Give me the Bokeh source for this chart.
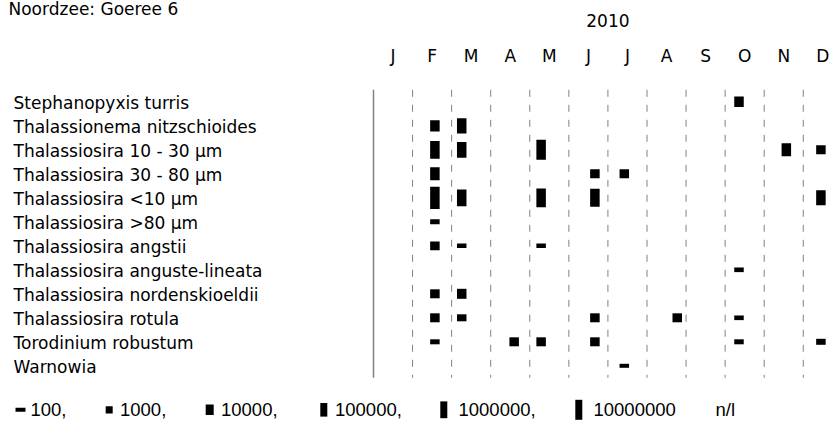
import calendar
import math
from bokeh.plotting import figure
from bokeh.models import Range1d
from bokeh.core.properties import value
from bokeh.embed import file_html
from bokeh.resources import INLINE

# ---------------- data ----------------
title = "Noordzee: Goeree 6"
year = 2010
month_letters = ["J", "F", "M", "A", "M", "J", "J", "A", "S", "O", "N", "D"]

species = [
    "Stephanopyxis turris",
    "Thalassionema nitzschioides",
    "Thalassiosira 10 - 30 µm",
    "Thalassiosira 30 - 80 µm",
    "Thalassiosira <10 µm",
    "Thalassiosira >80 µm",
    "Thalassiosira angstii",
    "Thalassiosira anguste-lineata",
    "Thalassiosira nordenskioeldii",
    "Thalassiosira rotula",
    "Torodinium robustum",
    "Warnowia",
]

# observations (species, sampling date, cells per litre)
obs_species = [
    "Stephanopyxis turris",
    "Thalassionema nitzschioides", "Thalassionema nitzschioides",
    "Thalassiosira 10 - 30 µm", "Thalassiosira 10 - 30 µm", "Thalassiosira 10 - 30 µm",
    "Thalassiosira 10 - 30 µm", "Thalassiosira 10 - 30 µm",
    "Thalassiosira 30 - 80 µm", "Thalassiosira 30 - 80 µm", "Thalassiosira 30 - 80 µm",
    "Thalassiosira <10 µm", "Thalassiosira <10 µm", "Thalassiosira <10 µm",
    "Thalassiosira <10 µm", "Thalassiosira <10 µm",
    "Thalassiosira >80 µm",
    "Thalassiosira angstii", "Thalassiosira angstii", "Thalassiosira angstii",
    "Thalassiosira anguste-lineata",
    "Thalassiosira nordenskioeldii", "Thalassiosira nordenskioeldii",
    "Thalassiosira rotula", "Thalassiosira rotula", "Thalassiosira rotula",
    "Thalassiosira rotula", "Thalassiosira rotula",
    "Torodinium robustum", "Torodinium robustum", "Torodinium robustum",
    "Torodinium robustum", "Torodinium robustum", "Torodinium robustum",
    "Warnowia",
]
obs_date = [
    "2010-10-12",
    "2010-02-17", "2010-03-09",
    "2010-02-17", "2010-03-09", "2010-05-10", "2010-11-18", "2010-12-15",
    "2010-02-17", "2010-06-21", "2010-07-14",
    "2010-02-17", "2010-03-09", "2010-05-10", "2010-06-21", "2010-12-15",
    "2010-02-17",
    "2010-02-17", "2010-03-09", "2010-05-10",
    "2010-10-12",
    "2010-02-17", "2010-03-09",
    "2010-02-17", "2010-03-09", "2010-06-21", "2010-08-25", "2010-10-12",
    "2010-02-17", "2010-04-19", "2010-05-10", "2010-06-21", "2010-10-12", "2010-12-15",
    "2010-07-14",
]
obs_value = [
    7000,
    11000, 140000,
    650000, 180000, 2800000, 32000, 2400,
    32000, 2400, 2400,
    12000000, 340000, 1200000, 780000, 110000,
    190,
    2000, 150, 150,
    150,
    2400, 4600,
    2400, 680, 2400, 2400, 150,
    190, 2400, 2400, 2400, 190, 360,
    100,
]

legend_values = [100, 1000, 10000, 100000, 1000000, 10000000]
legend_labels = ["100,", "1000,", "10000,", "100000,", "1000000,", "10000000"]
unit_label = "n/l"

# ---------------- layout / style ----------------
W, H = 834, 430
MONTH_PX = 39.07         # width of one month
X0_PAGE = 373            # page x of 1 January
ROW_PX = 24
ROW0_PAGE = 101.3        # page y of first row centre
FONT = "DejaVu Sans"
LEG_FONT = "Liberation Sans"


def px(page_x):
    return (page_x - X0_PAGE) / MONTH_PX


def py(page_y):
    return (page_y - ROW0_PAGE) / ROW_PX


def month_pos(date_str):
    y, m, d = (int(t) for t in date_str.split("-"))
    return (m - 1) + (d - 1) / calendar.monthrange(y, m)[1]


def bar_height(v):
    return 4 + 3.6 * (math.log10(v) - 2)


def legend_height(v):
    return 4 + 3.2 * (math.log10(v) - 2)


p = figure(
    width=W, height=H,
    x_range=Range1d(px(0), px(W)),
    y_range=Range1d(py(H), py(0)),
    output_backend="svg", toolbar_location=None,
    x_axis_location=None, y_axis_location=None,
    min_border=0, outline_line_color=None,
)
p.grid.visible = False

n = len(species)
# month separators
p.segment(x0=list(range(1, 12)), x1=list(range(1, 12)),
          y0=[-0.5] * 11, y1=[n - 0.5] * 11,
          line_color="#808080", line_width=1, line_dash="7 8")
p.segment(x0=[0], x1=[0], y0=[-0.5], y1=[n - 0.5],
          line_color="#808080", line_width=1.5)

# bars
bx = [month_pos(d) for d in obs_date]
by = [species.index(s) for s in obs_species]
bh = [bar_height(v) for v in obs_value]
p.rect(x=bx, y=by, width=9.5, height=bh, width_units="screen", height_units="screen",
       fill_color="black", line_color=None)

# species labels
p.text(x=[px(13)] * n, y=[i + 0.06 for i in range(n)], text=species,
       text_font=value(FONT), text_font_size="17px", text_color="black",
       text_align="left", text_baseline="middle")

# title, year, months
p.text(x=[px(8)], y=[py(8.5)], text=[title], text_font=value(FONT), text_font_size="17px",
       text_color="black", text_align="left", text_baseline="middle")
p.text(x=[6.0], y=[py(20)], text=[str(year)], text_font=value(FONT), text_font_size="17px",
       text_color="black", text_align="center", text_baseline="middle")
p.text(x=[i + 0.5 for i in range(12)], y=[py(55.5)] * 12, text=month_letters,
       text_font=value(FONT), text_font_size="17px", text_color="black",
       text_align="center", text_baseline="middle")

# legend
leg_marker_px = [20, 108.7, 209.2, 323.3, 443.3, 578.3]
leg_marker_w = [10, 7, 8, 7, 7, 7]
leg_text_px = [30, 119.5, 220.5, 334.5, 458, 593, 715]
leg_y = py(409.3)
p.rect(x=[px(v) for v in leg_marker_px], y=[leg_y] * 6, width=leg_marker_w,
       height=[legend_height(v) for v in legend_values],
       width_units="screen", height_units="screen", fill_color="black", line_color=None)
p.text(x=[px(v) for v in leg_text_px], y=[leg_y] * 7, text=legend_labels + [unit_label],
       text_font=value(LEG_FONT), text_font_size="18.5px", text_color="black",
       text_align="left", text_baseline="middle")

open("out.html", "w").write(file_html(p, INLINE))
